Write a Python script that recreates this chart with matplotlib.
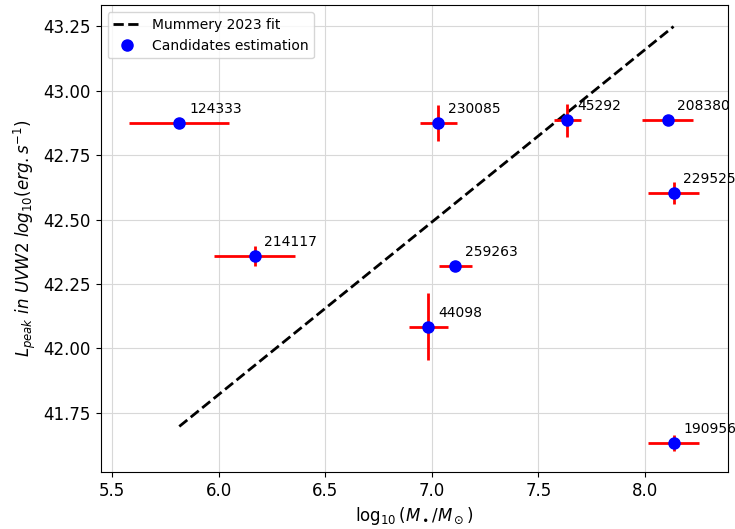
import numpy as np
import matplotlib
matplotlib.use("Agg")
import matplotlib.pyplot as plt

# candidate ids and their mass / peak luminosity estimates
names = ["124333", "214117", "230085", "45292", "208380",
         "229525", "259263", "44098", "190956"]
log_mass = [5.815, 6.168, 7.031, 7.635, 8.106, 8.134, 7.109, 6.984, 8.134]
mass_err = [0.235, 0.19, 0.088, 0.063, 0.12, 0.12, 0.077, 0.093, 0.12]
log_lpeak = [42.875, 42.359, 42.875, 42.885, 42.888, 42.603, 42.321, 42.084, 41.632]
lpeak_err = [0.015, 0.04, 0.07, 0.064, 0.01, 0.044, 0.01, 0.13, 0.03]

# Mummery 2023 relation (slope, intercept)
fit_slope = 0.67
fit_intercept = 37.80

fig, ax = plt.subplots(figsize=(7.35, 5.29), dpi=100)
fig.subplots_adjust(left=0.137, right=0.990, top=0.990, bottom=0.108)

fit_x = np.linspace(min(log_mass), max(log_mass), 50)
ax.plot(fit_x, fit_slope * fit_x + fit_intercept, 'k--', lw=2, label='Mummery 2023 fit')

ax.errorbar(log_mass, log_lpeak, xerr=mass_err, yerr=lpeak_err, fmt='none',
            ecolor='red', elinewidth=2, zorder=2)
ax.plot(log_mass, log_lpeak, 'o', color='blue', markersize=8,
        label='Candidates estimation', zorder=3)

for n, x, y in zip(names, log_mass, log_lpeak):
    ax.annotate(n, (x, y), xytext=(7, 5), textcoords='offset points',
                fontsize=10, ha='left', va='bottom')

ax.grid(True, color='#d8d8d8', lw=0.8)
ax.set_axisbelow(True)
ax.tick_params(labelsize=12)
ax.set_xlabel(r'$\log_{10}(M_\bullet/M_\odot)$', fontsize=12)
ax.set_ylabel(r'$L_{peak}\ in\ UVW2\ log_{10}(erg.s^{-1})$', fontsize=12)
ax.legend(loc='upper left', fontsize=10)

fig.savefig('out.png', dpi=100)
